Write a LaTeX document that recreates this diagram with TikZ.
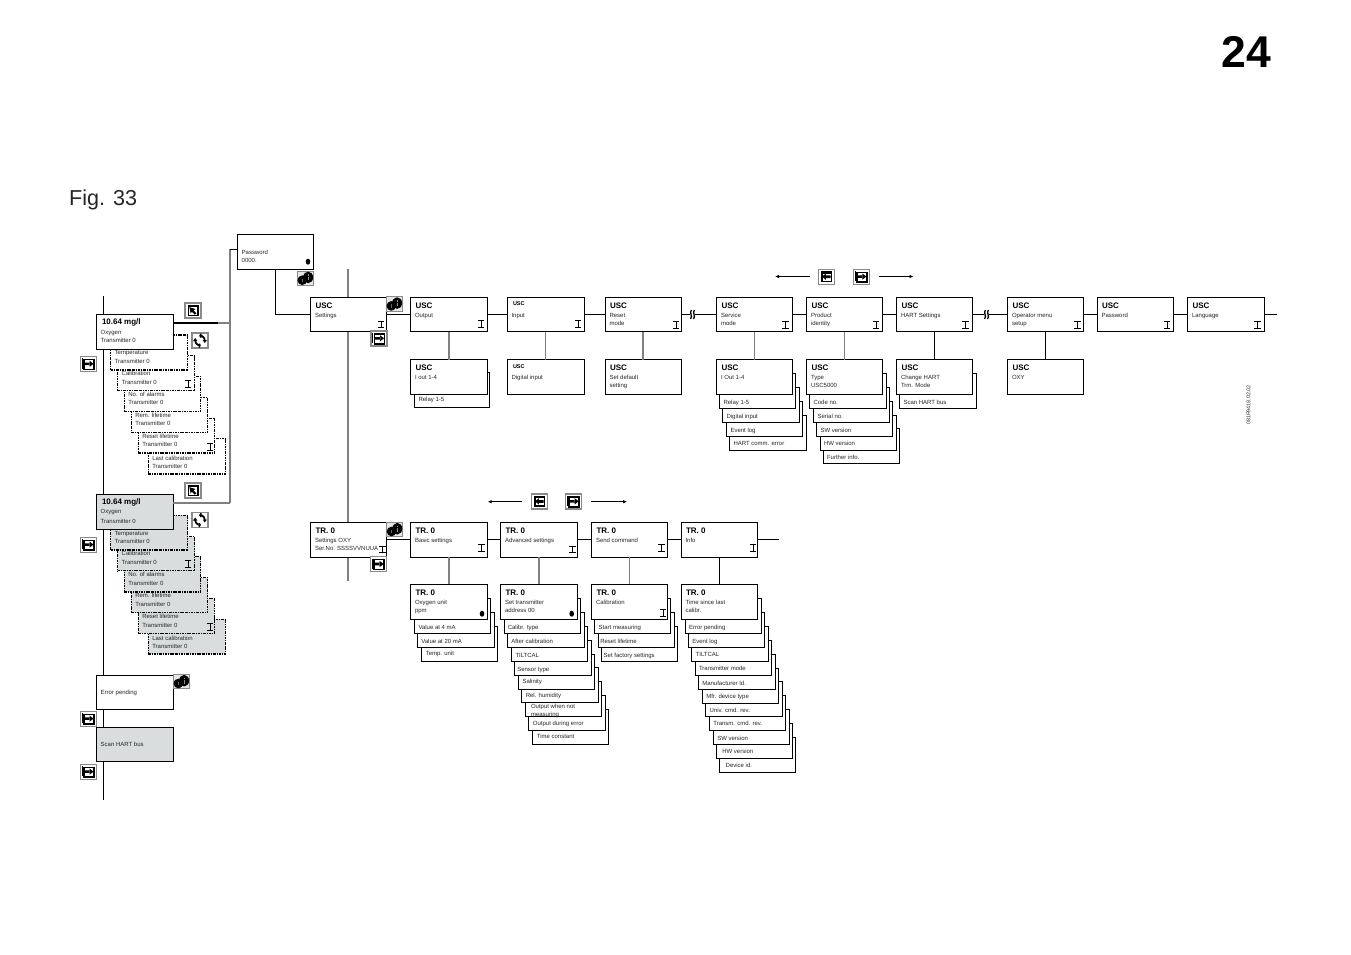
\documentclass[tikz,border=0pt]{standalone}
\usepackage{fontspec}
\setmainfont{Liberation Sans}
\usetikzlibrary{arrows.meta}
\definecolor{panel}{HTML}{DADDDD}
\definecolor{greyline}{HTML}{808080}
\definecolor{iconedge}{HTML}{8A8A8A}
\newcount\txtnum
\tikzset{
  boxs/.style={draw=black,line width=.9bp,fill=white,inner sep=0pt,outer sep=0pt,anchor=north west},
  dashs/.style={boxs,line width=1.3bp,dash pattern=on 2.6bp off .9bp on 1bp off .9bp},
  lab/.style={inner sep=0pt,outer sep=0pt,anchor=base west,text=black!85,font=\fontsize{6bp}{6bp}\selectfont},
  hd/.style={lab,text=black,font=\fontsize{8bp}{8bp}\selectfont\bfseries},
  hdsmall/.style={lab,text=black,font=\fontsize{5.5bp}{6bp}\selectfont\bfseries},
  conn/.style={draw=black,line width=.8bp},
  grey/.style={draw=greyline,line width=1.1bp},
  iconframe/.pic={\fill[white] (0,0) rectangle (16,15);\draw[iconedge,line width=1.2bp] (0,0) rectangle (16,15);},
  iconnext/.pic={\pic {iconframe};
    \draw[black,line width=1.5bp] (3.5,3) rectangle (13.5,12.8);
    \draw[black,line width=.8bp] (1.8,1.8) -- (1.8,12) ;
    \fill[black] (4,6) rectangle (9.5,8.6) (9,4.2) -- (13,7.3) -- (9,10.4) -- cycle;},
  iconback/.pic={\pic {iconframe};
    \fill[black] (2.5,2) rectangle (13.5,13);
    \fill[white] (4,4.2) rectangle (12.2,11.4);
    \fill[black] (7,6) rectangle (12.2,8.8) (7.4,4.2) -- (3.5,7.4) -- (7.4,10.6) -- cycle;},
  iconenter/.pic={\pic {iconframe};
    \fill[black] (2.5,2) rectangle (13.5,13);
    \fill[white] (4.2,4) rectangle (12,11.6);
    \fill[black] (4.4,4.2) -- (10.5,6) -- (8.6,7.4) -- (11.4,10.4) -- (9.8,11.6) -- (6.8,8.6) -- (5.6,10.6) -- cycle;},
  iconrotate/.pic={\pic {iconframe};
    \draw[black,line width=1.7bp] (3.2,7.5) arc[start angle=180,end angle=85,radius=5];
    \draw[black,line width=1.7bp] (12.8,7.5) arc[start angle=0,end angle=-95,radius=5];
    \fill[black] (1,8) -- (5.4,8) -- (3.2,5) -- cycle (15,7) -- (10.6,7) -- (12.8,10) -- cycle;
    \fill[black] (8,.5) rectangle (9.5,4.5) (6.5,10.5) rectangle (8,14.5);},
  iconinfo/.pic={\fill[panel!70!white] (0,0) rectangle (16,14.5);\draw[iconedge,line width=.9bp] (0,0) rectangle (16,14.5);
    \fill[black] (5,9.2) circle[x radius=4.8,y radius=4.8];
    \fill[black] (10.8,6.4) circle[x radius=5,y radius=5.8];
    \fill[black!60] (4.5,7.5) rectangle (5.5,11);
    \fill[black!45] (10.3,3.4) rectangle (11.5,4.8);
    \fill[black!45] (10.3,6) rectangle (11.5,9.4);}
}
\newcommand{\tx}[4][lab]{\if\relax\detokenize{#4}\relax\else\global\advance\txtnum by 1\relax
  \node[#1] (t\the\txtnum) at (#2,#3+2.4) {#4};\fi}
\newcommand{\bx}[6][boxs]{\node[#1,minimum width={((#5)-(#3))*1bp},minimum height={((#6)-(#4))*1bp}] (#2) at (#3,#4) {};}
\newcommand{\gbx}[5]{\bx[boxs,fill=panel]{#1}{#2}{#3}{#4}{#5}}
\newcommand{\ibeam}[2]{\draw[black,line width=.75bp] (#1-3.2,#2-3.4) -- (#1+3.2,#2-3.4) (#1,#2-3.4) -- (#1,#2+3.2) (#1-3.2,#2+3.2) -- (#1+3.2,#2+3.2);}
\newcommand{\bull}[2]{\fill[black] (#1,#2) circle[x radius=2.3,y radius=3];}
% row box with heading, two lines
\newcommand{\rbx}[9]{\bx{#1}{#2}{#3}{#4}{#5}\tx[hd]{#2+5}{#3+8.8}{#6}\tx{#2+4.5}{#3+#9}{#7}\tx{#2+4.5}{#3+#9+8.5}{#8}}
% stacked box: name x1 x2 ybottom text-x-offset text-y-offset label
\newcommand{\stk}[7]{\bx{#1}{#2}{#4-35}{#3}{#4}\tx{#2+#5}{#4-#6}{#7}}
\newcommand{\dbx}[9]{\bx[dashs]{#1}{#2}{#3}{#4}{#5}\tx{#2+4}{#6}{#8}\tx{#2+4}{#7}{#9}}
\newcommand{\gdbx}[9]{\bx[dashs,fill=panel]{#1}{#2}{#3}{#4}{#5}\tx{#2+4}{#6}{#8}\tx{#2+4}{#7}{#9}}
\begin{document}
\begin{tikzpicture}[x=1bp,y=-1bp]
\useasboundingbox (0,0) rectangle (1351,954);
\fill[white] (0,0) rectangle (1351,954);
% page labels
\node[inner sep=0pt,anchor=base east,font=\fontsize{44.5bp}{44bp}\selectfont\bfseries] (pagenum) at (1271,67) {24};
\node[inner sep=0pt,anchor=base west,font=\fontsize{21.6bp}{22bp}\selectfont,text=black!85] (figlab) at (69,205) {Fig. 33};
\node[inner sep=0pt,rotate=90,font=\fontsize{5.4bp}{5bp}\selectfont,text=black!80] (code) at (1248.5,405) {081R9418.02.02};
% spines
\coordinate (mainT) at (103,296); \coordinate (mainB) at (103,800);
\draw[conn] (mainT) -- (mainB);
\coordinate (setT) at (348,269); \coordinate (setB) at (348,581);
\draw[grey] (setT) -- (setB);
\coordinate (busT) at (230,249); \coordinate (busB) at (230,503); \coordinate (busM) at (230,323); \coordinate (busD) at (218,323);
\draw[grey] (busT) -- (busB);
% left column, upper group
\dbx{d6}{148.3}{438.7}{225.3}{474}{458}{466}{Last calibration}{Transmitter 0}
\dbx{d5}{138.3}{418.3}{214.3}{453}{436}{443.7}{Reset lifetime}{Transmitter 0}
\ibeam{210}{447}
\dbx{d4}{131.3}{397.7}{207.7}{432.3}{415}{423}{Rem. lifetime}{Transmitter 0}
\dbx{d3}{124.3}{376.7}{200.7}{411.7}{394}{402}{No. of alarms}{Transmitter 0}
\dbx{d2}{117.7}{355.7}{194.5}{390.7}{373}{382}{Calibration}{Transmitter 0}
\ibeam{188}{384}
\dbx{d1}{110.7}{335}{187.5}{370}{352}{361}{Temperature}{Transmitter 0}
\bx{main1}{96.5}{314}{173}{349.5}
\tx[hd]{102}{322.2}{10.64 mg/l}\tx{100.7}{331.7}{Oxygen}\tx{100.7}{339.7}{Transmitter 0}
% left column, lower group
\gdbx{g6}{148.3}{619.3}{225.3}{654}{637.7}{646}{Last calibration}{Transmitter 0}
\gdbx{g5}{138.3}{598.7}{214.3}{633.3}{616}{624.7}{Reset lifetime}{Transmitter 0}
\ibeam{210}{627}
\gdbx{g4}{131.3}{577.7}{207.7}{612.7}{595}{604}{Rem. lifetime}{Transmitter 0}
\gdbx{g3}{124.3}{556.7}{200.7}{592}{574.3}{582.7}{No. of alarms}{Transmitter 0}
\gdbx{g2}{117.7}{536.7}{194.5}{570.7}{553}{562}{Calibration}{Transmitter 0}
\ibeam{188}{564}
\gdbx{g1}{110.7}{515.3}{187.5}{550}{533}{541}{Temperature}{Transmitter 0}
\gbx{main2}{96.5}{494.5}{173}{529.5}
\tx[hd]{102}{502.2}{10.64 mg/l}\tx{100.7}{511.3}{Oxygen}\tx{100.7}{520.7}{Transmitter 0}
\bx{err}{96.5}{675.3}{173}{709.3}\tx{100.7}{692}{Error pending}
\gbx{scan}{96.5}{727.3}{173}{761.7}\tx{100.7}{744}{Scan HART bus}
% password
\bx{pw}{237.5}{234.5}{313.5}{269}\tx{241.7}{252}{Password}\tx{241.7}{260.3}{0000.}
\bull{308}{261.7}
% settings
\rbx{sUSC}{310.5}{297}{386.5}{331.5}{USC}{Settings}{}{18}
\ibeam{381}{324.3}
\rbx{sTR}{310.5}{522.5}{386}{557}{TR. 0}{Settings OXY}{Ser.No. SSSSVVNUUA}{17.3}
\ibeam{382.5}{549.5}
% top row
\rbx{uOut}{410.5}{297}{487.5}{331.5}{USC}{Output}{}{18}\ibeam{481}{324}
\bx{uIn}{507}{297}{584}{331.5}\tx[hdsmall]{513}{303}{USC}\tx{511.5}{315}{Input}\ibeam{578}{324}
\rbx{uRes}{605}{297}{681}{331.5}{USC}{Reset}{mode}{18}\ibeam{676}{325}
\rbx{uSvc}{716.5}{297}{792}{331.5}{USC}{Service}{mode}{18}\ibeam{785.5}{325}
\rbx{uPrd}{806.5}{297}{882.5}{331.5}{USC}{Product}{identity}{18}\ibeam{876}{325}
\rbx{uHrt}{896.5}{297}{972.5}{331.5}{USC}{HART Settings}{}{18}\ibeam{965.5}{325}
\rbx{uOp}{1007.5}{297}{1083.5}{331.5}{USC}{Operator menu}{setup}{18}\ibeam{1077.5}{325}
\rbx{uPw}{1097}{297}{1173.5}{331.5}{USC}{Password}{}{18}\ibeam{1167}{325}
\rbx{uLn}{1187.5}{297}{1264.5}{331.5}{USC}{Language}{}{18}\ibeam{1257.5}{325}
% top sub row
\stk{oA}{414.5}{489.5}{407.7}{4}{8.5}{Relay 1-5}
\rbx{oB}{410.5}{359.5}{487.5}{394}{USC}{I out 1-4}{}{17.5}
\bx{iB}{507}{359.5}{584}{394}\tx[hdsmall]{513}{366}{USC}\tx{511.5}{377}{Digital input}
\rbx{rB}{605}{359.5}{681}{394}{USC}{Set default}{setting}{17.5}
\stk{vD}{729.5}{806.5}{450}{4}{7}{HART comm. error}
\stk{vC}{726.5}{802.5}{436.6}{4}{7}{Event log}
\stk{vB}{722.5}{799.5}{422.6}{4}{7}{Digital input}
\stk{vA}{719.5}{795.5}{408.7}{4}{7}{Relay 1-5}
\rbx{vT}{716.5}{359.5}{792}{394}{USC}{I Out 1-4}{}{17.5}
\stk{pE}{823}{899.5}{463.5}{4}{6.5}{Further info.}
\stk{pD}{820}{896}{450}{4}{6.5}{HW version}
\stk{pC}{816.5}{892.5}{436.6}{4}{6.5}{SW version}
\stk{pB}{813.5}{889.5}{422.6}{4}{6.5}{Serial no.}
\stk{pA}{809.5}{886}{408.7}{4}{7}{Code no.}
\rbx{pT}{806.5}{359.5}{882.5}{394}{USC}{Type}{USC5000}{17.5}
\stk{hA}{899.5}{976}{408.7}{4}{7}{Scan HART bus}
\rbx{hT}{896.5}{359.5}{972.5}{394}{USC}{Change HART}{Trm. Mode}{17.5}
\rbx{opT}{1007.5}{359.5}{1083.5}{394}{USC}{OXY}{}{17.5}
% lower row
\rbx{tBas}{410.5}{522.5}{487.5}{557}{TR. 0}{Basic settings}{}{17.3}\ibeam{481.5}{548}
\rbx{tAdv}{500.5}{522.5}{577.5}{557}{TR. 0}{Advanced settings}{}{17.3}\ibeam{572.5}{549.5}
\rbx{tSnd}{591.5}{522.5}{667.5}{557}{TR. 0}{Send command}{}{17.3}\ibeam{661.5}{548}
\rbx{tInf}{681}{522.5}{757.5}{557}{TR. 0}{Info}{}{17.3}\ibeam{753}{548}
% lower sub row: basic
\stk{bC}{421.3}{497.5}{661.3}{4.5}{8}{Temp. unit}
\stk{bB}{417.3}{494.5}{647.3}{4}{6.5}{Value at 20 mA}
\stk{bA}{414.5}{490.7}{633.3}{4}{6.5}{Value at 4 mA}
\rbx{bT}{410.5}{584.4}{487.5}{619.3}{TR. 0}{Oxygen unit}{ppm}{17.5}
\bull{482}{613.7}
% advanced
\stk{aI}{532.3}{608.3}{744.7}{4.5}{8.5}{Time constant}
\stk{aH}{528.7}{605.3}{730.7}{4.2}{8}{Output during error}
\bx{aG}{525.3}{681.7}{601.7}{716.7}\tx{531}{706}{Output when not}\tx{531}{714.5}{measuring}
\stk{aF}{521.3}{598.3}{702.7}{4.5}{8}{Rel. humidity}
\stk{aE}{518.3}{594.3}{689.3}{4.2}{8}{Salinity}
\stk{aD}{514.3}{591}{675.3}{3}{6.5}{Sensor type}
\stk{aC}{511}{587.3}{661.3}{4.5}{6.5}{TILTCAL}
\stk{aB}{507.3}{584}{647.3}{4}{6.5}{After calibration}
\stk{aA}{504.3}{580.3}{633.3}{3.5}{6.5}{Calibr. type}
\rbx{aT}{500.5}{584.4}{577.5}{619.3}{TR. 0}{Set transmitter}{address 00}{17.3}
\bull{571.7}{613.7}
% send
\stk{sC}{601.7}{677.7}{661.3}{2}{6.5}{Set factory settings}
\stk{sB}{598.3}{674.3}{647.3}{2}{6.5}{Reset lifetime}
\stk{sA}{594.7}{670.7}{633.3}{4}{6.5}{Start measuring}
\rbx{sT}{591.5}{584.4}{667.5}{619.3}{TR. 0}{Calibration}{}{17.5}\ibeam{663}{613}
% info
\stk{nK}{719.7}{795.3}{772.7}{6}{8}{Device id.}
\stk{nJ}{716.3}{792.3}{758.7}{6}{7.7}{HW version}
\stk{nI}{713.3}{789}{744.7}{4}{6.7}{SW version}
\stk{nH}{709.3}{785.3}{730.7}{4}{7.3}{Transm. cmd. rev.}
\stk{nG}{705.7}{782}{716.7}{4}{6.7}{Univ. cmd. rev.}
\stk{nF}{702.3}{778.3}{703.3}{4}{7}{Mfr. device type}
\stk{nE}{698.3}{775}{689.3}{4}{6.7}{Manufacturer Id.}
\stk{nD}{695.3}{771.7}{675.3}{3.7}{7}{Transmitter mode}
\stk{nC}{691.7}{768}{661.3}{4}{7}{TILTCAL}
\stk{nB}{688.7}{764.7}{647.3}{3.7}{6.7}{Event log}
\stk{nA}{685.3}{761.7}{633.3}{3.7}{6.7}{Error pending}
\rbx{nT}{681}{584.4}{757.5}{619.3}{TR. 0}{Time since last}{calibr.}{17.3}
% horizontal connectors
\draw[conn] (busT) -- (pw.west|-busT);
\draw[conn,line width=1.1bp] (main1.east|-busD) -- (busD);
\draw[grey] (busD) -- (busM);
\draw[grey] (main2.east|-busB) -- (busB);
\coordinate (pwturn) at (pw.south|-sUSC.west);
\draw[conn] (pw.south) -- (pwturn) -- (sUSC.west);
\draw[conn] (sUSC) -- (uOut) (uOut) -- (uIn) (uIn) -- (uRes);
\coordinate (q1a) at (690,314.25); \coordinate (q1b) at (695,314.25);
\coordinate (q2a) at (984,314.25); \coordinate (q2b) at (989,314.25);
\draw[conn] (uRes.east) -- (q1a) (q1b) -- (uSvc.west) (uSvc) -- (uPrd) (uPrd) -- (uHrt);
\draw[conn] (uHrt.east) -- (q2a) (q2b) -- (uOp.west) (uOp) -- (uPw) (uPw) -- (uLn);
\coordinate (endA) at (1276.5,314.25); \draw[conn] (uLn.east) -- (endA);
\draw[conn,line width=1.3bp]
  (691.4,310) .. controls (689,313) and (693,315.5) .. (690.6,319)
  (694.4,310) .. controls (692,313) and (696,315.5) .. (693.6,319)
  (985.4,310) .. controls (983,313) and (987,315.5) .. (984.6,319)
  (988.4,310) .. controls (986,313) and (990,315.5) .. (987.6,319);
\draw[conn] (sTR) -- (tBas) (tBas) -- (tAdv) (tAdv) -- (tSnd) (tSnd) -- (tInf);
\coordinate (endB) at (779,539.75); \draw[conn] (tInf.east) -- (endB);
% vertical connectors
\draw[grey] (uOut.south) -- (oB.north) (uIn.south) -- (iB.north) (uRes.south) -- (rB.north)
  (uSvc.south) -- (vT.north) (uPrd.south) -- (pT.north);
\draw[conn] (uHrt.south) -- (hT.north) (uOp.south) -- (opT.north);
\draw[grey] (tBas.south) -- (bT.north) (tAdv.south) -- (aT.north) (tSnd.south) -- (sT.north);
\draw[conn] (tInf.south) -- (nT.north);
% direction arrows
\coordinate (al1) at (810,276.5); \coordinate (al2) at (775,276.5);
\coordinate (ar1) at (878.5,276.5); \coordinate (ar2) at (913.5,276.5);
\coordinate (bl1) at (521.7,501.7); \coordinate (bl2) at (487.7,501.7);
\coordinate (br1) at (590.7,501.7); \coordinate (br2) at (627,501.7);
\draw[conn,-{Latex[length=4bp,width=3.5bp]}] (al1) -- (al2);
\draw[conn,-{Latex[length=4bp,width=3.5bp]}] (ar1) -- (ar2);
\draw[conn,-{Latex[length=4bp,width=3.5bp]}] (bl1) -- (bl2);
\draw[conn,-{Latex[length=4bp,width=3.5bp]}] (br1) -- (br2);
% icons
\pic at (185,303) {iconenter}; \pic at (185,483) {iconenter};
\pic at (192,333) {iconrotate}; \pic at (192,512.5) {iconrotate};
\pic at (80.5,356.5) {iconnext}; \pic at (80.5,537.3) {iconnext};
\pic at (80.5,711.3) {iconnext}; \pic at (80.5,764.3) {iconnext};
\pic at (371,331) {iconnext}; \pic at (370.7,556.7) {iconnext};
\pic at (818.5,269.3) {iconback}; \pic at (853.3,269.3) {iconnext};
\pic at (531.5,494) {iconback}; \pic at (565.7,494) {iconnext};
\pic at (297.3,271) {iconinfo}; \pic at (386.3,296.7) {iconinfo};
\pic at (386.5,522.3) {iconinfo}; \pic at (173.3,674.3) {iconinfo};
\end{tikzpicture}
\end{document}
